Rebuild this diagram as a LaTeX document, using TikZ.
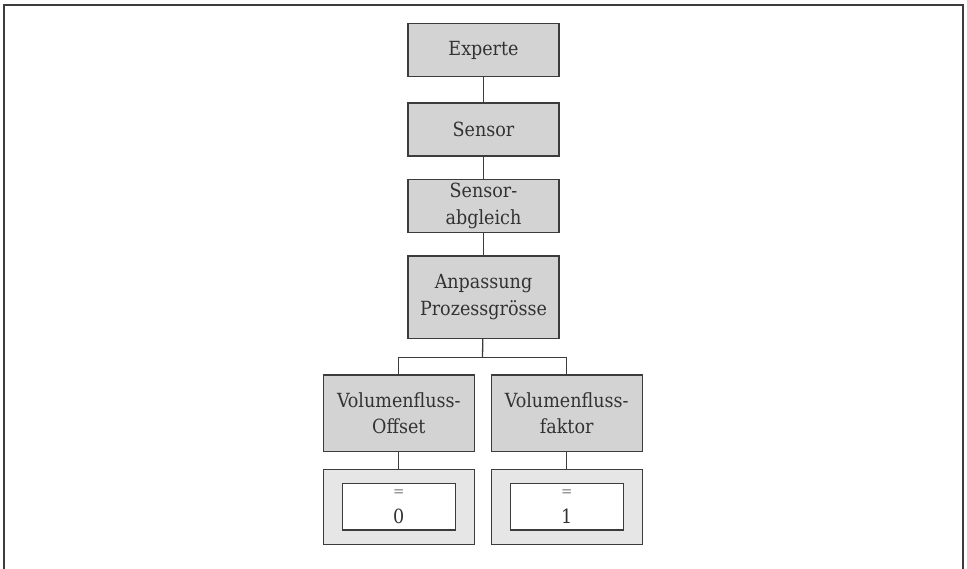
\documentclass[tikz,border=0pt]{standalone}
\usepackage{fontspec}
\setmainfont{DejaVu Serif Condensed}
\usepackage{xcolor}
\usepackage{tikz}
\usetikzlibrary{positioning, calc}
\definecolor{boxgray}{RGB}{211, 211, 211}
\definecolor{valgray}{RGB}{230, 230, 231}
\definecolor{edgegray}{RGB}{60, 60, 60}
\definecolor{textgray}{RGB}{50, 50, 50}

\begin{document}
\begin{tikzpicture}[x=1pt, y=-1pt, every node/.style={transform shape}]
		\tikzstyle{menubox}=[draw=edgegray, line width=1.2pt, minimum height=53pt, minimum width=151pt, inner sep=0pt, fill=boxgray, text=textgray, align=center, font=\fontsize{19.5}{26.5}\selectfont]
		\tikzstyle{valouter}=[draw=edgegray, line width=1.2pt, minimum height=75pt, minimum width=151pt, inner sep=0pt, fill=valgray]
		\tikzstyle{valinner}=[draw=edgegray, line width=1.2pt, minimum height=46.5pt, minimum width=113pt, inner sep=0pt, fill=white, text=textgray, align=center, font=\fontsize{19.5}{26.5}\selectfont]
		\tikzstyle{link}=[draw=edgegray, line width=1.3pt]
		
		\useasboundingbox (0,0) rectangle (967,568);
		\draw [edgegray, line width=2pt] (4,572) -- (4,5) -- (963,5) -- (963,572);
		
		%%	menu path
		\node [menubox] (experte) at (483.5,50.3) {Experte};
		\node [menubox, below=25pt of experte] (sensor) {Sensor};
		\node [menubox, below=22pt of sensor] (abgleich) {Sensor-\\abgleich};
		\node [menubox, below=22.5pt of abgleich, minimum height=82.7pt] (anpassung) {Anpassung\\Prozessgr\"osse};
		
		%%	parameters
		\node [menubox, minimum height=76.7pt] (offset) at (398.8,413.3) {Volumenfluss-\\Offset};
		\node [menubox, minimum height=76.7pt] (faktor) at (566.7,413.3) {Volumenfluss-\\faktor};
		
		\node [valouter] (offsetval) at (398.8,506.7) {};
		\node [valinner] (offsetin) at (offsetval.center) {{\fontsize{15}{15}\selectfont\color{gray}=}\\0};
		\node [valouter] (faktorval) at (566.7,506.7) {};
		\node [valinner] (faktorin) at (faktorval.center) {{\fontsize{15}{15}\selectfont\color{gray}=}\\1};
		
		%%	connectors
		\coordinate (fork) at (482.5,357.7);
		\draw [link] (experte) -- (sensor);
		\draw [link] (sensor) -- (abgleich);
		\draw [link] (abgleich) -- (anpassung);
		\draw [link] (anpassung) -- (fork);
		\draw [link] (offset.north) |- (fork) -| (faktor.north);
		\draw [link] (offset) -- (offsetval);
		\draw [link] (faktor) -- (faktorval);
		%%	
\end{tikzpicture}
\end{document}
